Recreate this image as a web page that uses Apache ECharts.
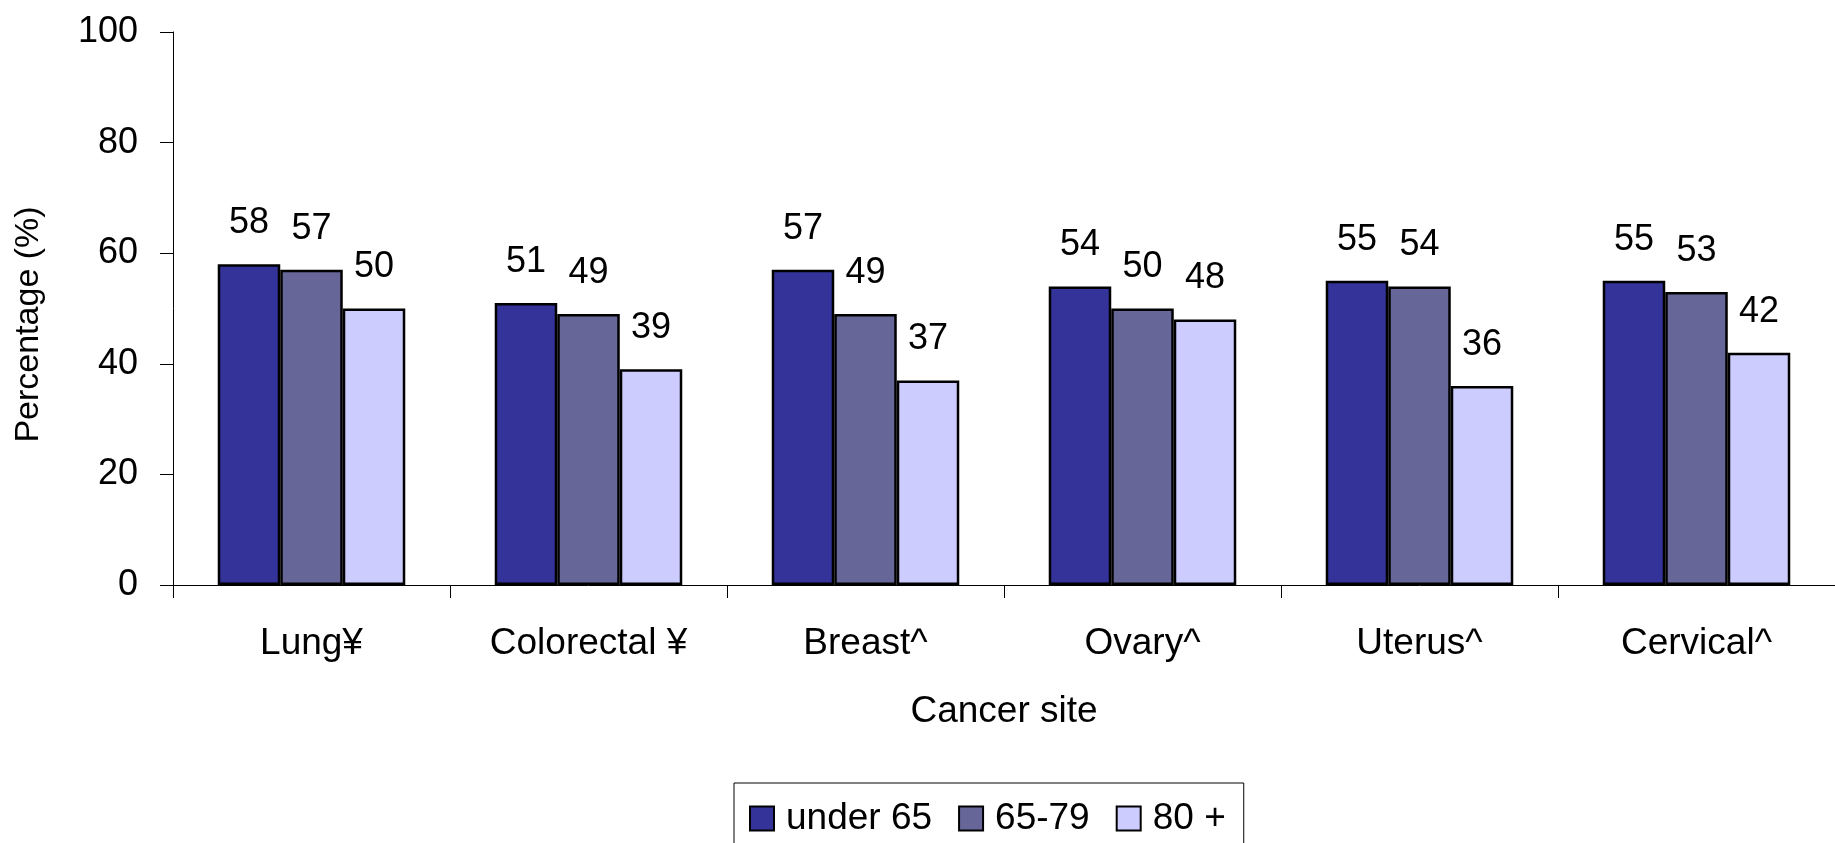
<!DOCTYPE html>
<html>
<head>
<meta charset="utf-8">
<script src="https://cdn.jsdelivr.net/npm/echarts@6/dist/echarts.min.js"></script>
<style>
html,body{margin:0;padding:0;background:#fff;}
#chart{width:1835px;height:843px;}
</style>
</head>
<body>
<div id="chart"></div>
<script>
const categories = ['Lung¥', 'Colorectal ¥', 'Breast^', 'Ovary^', 'Uterus^', 'Cervical^'];
const seriesNames = ['under 65', '65-79', '80 +'];
const under65 = [58, 51, 57, 54, 55, 55];
const age65to79 = [57, 49, 49, 50, 54, 53];
const age80plus = [50, 39, 37, 48, 36, 42];
const yTicks = [0, 20, 40, 60, 80, 100];

const colors = ['#333399', '#666699', '#CCCCFF'];
const FONT = '"Liberation Sans", Arial, sans-serif';

const chart = echarts.init(document.getElementById('chart'));
const seriesData = [under65, age65to79, age80plus];

chart.setOption({
  animation: false,
  backgroundColor: '#ffffff',
  textStyle: { fontFamily: FONT, color: '#000' },
  grid: { left: 173, top: 32, width: 1676, height: 553, containLabel: false },
  legend: {
    left: 734, top: 783,
    orient: 'horizontal',
    icon: 'rect',
    itemWidth: 24, itemHeight: 24,
    itemGap: 26,
    borderColor: '#000', borderWidth: 1,
    padding: [17, 18, 40, 15],
    textStyle: { fontFamily: FONT, fontSize: 37, color: '#000', padding: [0, 0, 0, 7] },
    data: seriesNames
  },
  xAxis: {
    type: 'category',
    data: categories,
    name: 'Cancer site',
    nameLocation: 'middle',
    nameGap: 108,
    nameTextStyle: { fontFamily: FONT, fontSize: 37, color: '#000' },
    axisLine: { lineStyle: { color: '#000', width: 1 } },
    axisTick: { show: true, length: 13, lineStyle: { color: '#000' }, alignWithLabel: false, interval: 0 },
    axisLabel: { fontFamily: FONT, fontSize: 37, color: '#000', margin: 40, interval: 0 },
    splitLine: { show: false }
  },
  yAxis: {
    type: 'value',
    min: 0, max: 100, interval: 20,
    name: 'Percentage (%)',
    nameLocation: 'middle',
    nameRotate: 90,
    nameGap: 127,
    nameTextStyle: { fontFamily: FONT, fontSize: 34, color: '#000', padding: [0, 32, 0, 0] },
    axisLine: { show: true, lineStyle: { color: '#000', width: 1 } },
    axisTick: { show: true, length: 13, lineStyle: { color: '#000' } },
    axisLabel: {
      fontFamily: FONT, fontSize: 36, color: '#000', margin: 35,
      formatter: function (v) { return yTicks.indexOf(v) >= 0 ? String(v) : ''; }
    },
    splitLine: { show: false }
  },
  series: seriesNames.map(function (name, i) {
    return {
      name: name,
      type: 'bar',
      data: seriesData[i],
      barGap: '0%',
      barCategoryGap: '32.3%',
      itemStyle: { color: colors[i], borderColor: '#000', borderWidth: 2.5 },
      label: {
        show: true, position: 'top', distance: 23,
        fontFamily: FONT, fontSize: 36, color: '#000'
      }
    };
  })
});
</script>
</body>
</html>
